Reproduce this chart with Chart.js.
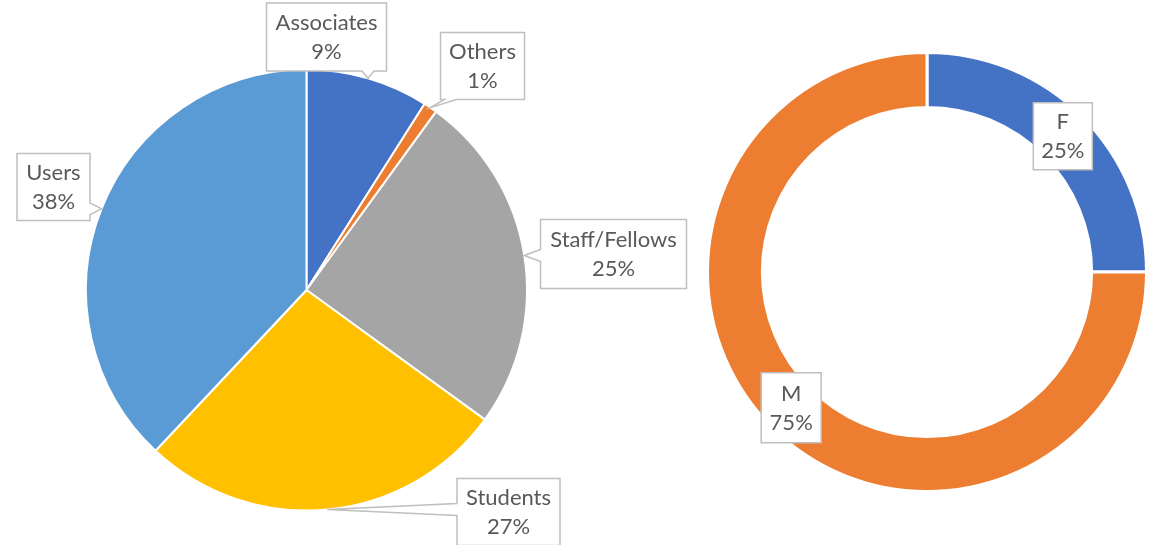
<!DOCTYPE html>
<html>
<head>
<meta charset="utf-8">
<script src="https://cdn.jsdelivr.net/npm/chart.js@4.4.1/dist/chart.umd.min.js"></script>
<style>
  html, body { margin: 0; padding: 0; background: #fff; }
  #wrap { position: relative; width: 1164px; height: 545px; }
  .panel { position: absolute; top: 0; height: 545px; }
</style>
</head>
<body>
<div id="wrap">
  <div class="panel" style="left:0;width:700px"><canvas id="roleChart"></canvas></div>
  <div class="panel" style="left:614px;width:550px"><canvas id="genderChart"></canvas></div>
</div>
<script>
const roleLabels = ["Associates", "Others", "Staff/Fellows", "Students", "Users"];
const roleValues = [9, 1, 25, 27, 38];
const roleColors = ["#4472C4", "#ED7D31", "#A5A5A5", "#FFC000", "#5B9BD5"];

const genderLabels = ["F", "M"];
const genderValues = [25, 75];
const genderColors = ["#4472C4", "#ED7D31"];

// callout boxes: centre offset from the pie centre, and box size
const roleBoxes = [
  { dx: 20, dy: -253, w: 120, h: 68 },
  { dx: 176, dy: -224, w: 84, h: 67 },
  { dx: 307, dy: -36, w: 146, h: 69 },
  { dx: 202, dy: 222, w: 103, h: 67 },
  { dx: -253, dy: -103, w: 73, h: 67 },
];
const genderBoxes = [
  { w: 59, h: 67 },
  { w: 60, h: 70 },
];

const FONT = "22px Lato";
const TEXT_COLOR = "#595959";

function drawCallout(ctx, x, y, w, h, tip) {
  const x1 = x + w, y1 = y + h, bw = 6;
  const clamp = (v, a, b) => Math.max(a, Math.min(b, v));
  let side = null;
  if (tip) {
    const nx = (tip.x - (x + w / 2)) / (w / 2);
    const ny = (tip.y - (y + h / 2)) / (h / 2);
    if (Math.abs(ny) >= Math.abs(nx)) side = ny < 0 ? "top" : "bottom";
    else side = nx < 0 ? "left" : "right";
  }
  ctx.beginPath();
  ctx.moveTo(x, y);
  if (side === "top") {
    const m = clamp(tip.x, x + bw + 4, x1 - bw - 4);
    ctx.lineTo(m - bw, y); ctx.lineTo(tip.x, tip.y); ctx.lineTo(m + bw, y);
  }
  ctx.lineTo(x1, y);
  if (side === "right") {
    const m = clamp(tip.y, y + bw + 4, y1 - bw - 4);
    ctx.lineTo(x1, m - bw); ctx.lineTo(tip.x, tip.y); ctx.lineTo(x1, m + bw);
  }
  ctx.lineTo(x1, y1);
  if (side === "bottom") {
    const m = clamp(tip.x, x + bw + 4, x1 - bw - 4);
    ctx.lineTo(m + bw, y1); ctx.lineTo(tip.x, tip.y); ctx.lineTo(m - bw, y1);
  }
  ctx.lineTo(x, y1);
  if (side === "left") {
    const m = clamp(tip.y, y + bw + 4, y1 - bw - 4);
    ctx.lineTo(x, m + bw); ctx.lineTo(tip.x, tip.y); ctx.lineTo(x, m - bw);
  }
  ctx.closePath();
  ctx.fillStyle = "#ffffff";
  ctx.fill();
  ctx.lineWidth = 1.5;
  ctx.strokeStyle = "#BFBFBF";
  ctx.stroke();
}

const calloutPlugin = {
  id: "callouts",
  afterDatasetsDraw(chart, args, opts) {
    const { ctx } = chart;
    const meta = chart.getDatasetMeta(0);
    const values = chart.data.datasets[0].data;
    const total = values.reduce((a, b) => a + b, 0);
    ctx.save();
    meta.data.forEach((arc, i) => {
      const p = arc.getProps(["x", "y", "startAngle", "endAngle", "outerRadius"], true);
      const box = opts.boxes[i];
      let cx, cy, tip = null;
      if (opts.pointer) {
        const mid = (p.startAngle + p.endAngle) / 2;
        tip = { x: p.x + Math.cos(mid) * p.outerRadius, y: p.y + Math.sin(mid) * p.outerRadius };
        cx = p.x + box.dx;
        cy = p.y + box.dy;
      } else {
        const pos = arc.tooltipPosition(true);
        cx = pos.x;
        cy = pos.y;
      }
      drawCallout(ctx, cx - box.w / 2, cy - box.h / 2, box.w, box.h, tip);
      ctx.fillStyle = TEXT_COLOR;
      ctx.font = FONT;
      ctx.textAlign = "center";
      ctx.textBaseline = "middle";
      ctx.fillText(chart.data.labels[i], cx, cy - 14);
      ctx.fillText(Math.round((values[i] / total) * 100) + "%", cx, cy + 15);
    });
    ctx.restore();
  },
};

function makePie(id, labels, values, colors, extra) {
  const ctx = document.getElementById(id).getContext("2d");
  return new Chart(ctx, {
    type: extra.type,
    data: {
      labels: labels,
      datasets: [
        {
          data: values,
          backgroundColor: colors,
          borderColor: "#ffffff",
          borderWidth: extra.borderWidth,
        },
      ],
    },
    options: {
      responsive: true,
      maintainAspectRatio: false,
      animation: false,
      cutout: extra.cutout,
      layout: { padding: extra.padding },
      plugins: {
        legend: { display: false },
        tooltip: { enabled: false },
        callouts: extra.callouts,
      },
    },
    plugins: [calloutPlugin],
  });
}

makePie("roleChart", roleLabels, roleValues, roleColors, {
  type: "pie",
  cutout: 0,
  borderWidth: 2,
  padding: { left: 85, right: 172, top: 68, bottom: 33 },
  callouts: { boxes: roleBoxes, pointer: true },
});

makePie("genderChart", genderLabels, genderValues, genderColors, {
  type: "doughnut",
  cutout: "75%",
  borderWidth: 3,
  padding: { left: 92, right: 16, top: 51, bottom: 52 },
  callouts: { boxes: genderBoxes, pointer: false },
});
</script>
</body>
</html>
